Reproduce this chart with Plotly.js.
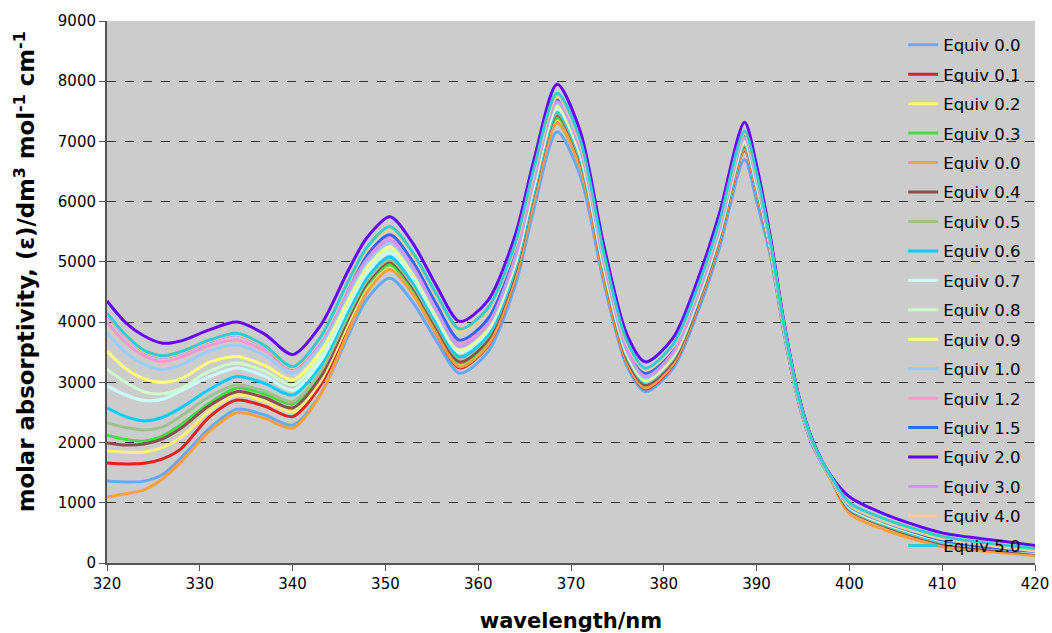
<!DOCTYPE html>
<html><head><meta charset="utf-8">
<script src="https://cdn.plot.ly/plotly-3.0.1.min.js"></script>
<style>html,body{margin:0;padding:0;background:#fff}#chart{width:1052px;height:633px}</style>
</head><body><div id="chart"></div>
<script>
const wavelength = [320,322,324,326,328,331,334,337,340,343,346,348,350.5,353,355.5,358,361,364,366,368.5,371,373.5,376,378,381,384,386,388.7,390,391.5,393,394.5,396,398,400,404,410,415,420];

const labels = ["Equiv 0.0","Equiv 0.1","Equiv 0.2","Equiv 0.3","Equiv 0.0","Equiv 0.4","Equiv 0.5","Equiv 0.6","Equiv 0.7","Equiv 0.8","Equiv 0.9","Equiv 1.0","Equiv 1.2","Equiv 1.5","Equiv 2.0","Equiv 3.0","Equiv 4.0","Equiv 5.0"];
const colors = ["#66AAFF","#DD2222","#FFF07A","#44DD44","#FFA040","#8C5050","#A0C090","#00CCFF","#CCFFFF","#CCFFCC","#FFFF80","#99CCFF","#FF99CC","#3366FF","#6600FF","#CC99FF","#FFCC99","#33CCCC"];

const eq00a = [1360,1345,1360,1470,1750,2230,2555,2457,2290,2802,3778,4380,4730,4319,3687,3150,3495,4614,5877,7160,6426,4679,3276,2845,3231,4310,5235,6700,6000,5090,3764,2676,1957,1388,860,570,300,210,150];
const eq01 = [1660,1645,1655,1730,1900,2420,2705,2603,2430,2949,3937,4540,4900,4468,3804,3240,3592,4733,6021,7330,6575,4777,3334,2890,3286,4395,5345,6850,6150,5165,3809,2706,1980,1403,880,590,300,210,150];
const eq02 = [1860,1840,1845,1920,2090,2520,2790,2686,2510,3016,3980,4570,4920,4496,3844,3290,3640,4776,6058,7360,6605,4807,3364,2920,3316,4425,5375,6880,6180,5180,3818,2712,1984,1406,870,590,310,220,150];
const eq03 = [2125,2050,2025,2110,2300,2650,2905,2807,2640,3125,4049,4610,4950,4526,3874,3320,3670,4806,6088,7390,6632,4825,3376,2930,3327,4439,5391,6900,6200,5190,3824,2716,1987,1408,890,610,330,240,170];
const eq00b = [1095,1150,1215,1400,1680,2180,2495,2401,2240,2792,3844,4490,4870,4451,3807,3260,3607,4735,6007,7300,6553,4773,3344,2905,3302,4412,5364,6870,6170,5175,3815,2710,1982,1380,820,540,270,190,120];
const eq04 = [1995,1960,1975,2060,2240,2610,2845,2745,2575,3084,4054,4645,5000,4568,3904,3340,3693,4837,6128,7440,6678,4861,3403,2955,3352,4462,5413,6920,6220,5200,3830,2720,1990,1410,880,600,320,230,160];
const eq05 = [2330,2250,2210,2260,2440,2760,2955,2853,2680,3174,4114,4685,5030,4606,3954,3400,3750,4886,6168,7470,6709,4897,3442,2995,3390,4494,5441,6940,6240,5210,3836,2724,1993,1412,900,620,340,250,170];
const eq06 = [2575,2430,2360,2420,2580,2880,3095,2982,2790,3271,4187,4740,5080,4650,3988,3425,3775,4911,6193,7495,6733,4916,3458,3010,3405,4511,5459,6960,6260,5220,3842,2728,1996,1414,910,630,360,270,230];
const eq07 = [2940,2790,2700,2720,2860,3090,3240,3103,2870,3349,4261,4810,5150,4718,4054,3490,3838,4968,6244,7540,6772,4941,3472,3020,3416,4526,5477,6980,6280,5230,3848,2732,1999,1416,920,640,370,270,180];
const eq08 = [3220,3000,2840,2810,2900,3180,3320,3185,2955,3426,4324,4865,5200,4763,4091,3520,3868,4998,6274,7570,6800,4965,3493,3040,3436,4545,5495,7000,6300,5240,3854,2736,2002,1418,960,680,420,400,220];
const eq09 = [3520,3230,3060,3000,3060,3330,3430,3280,3040,3504,4388,4920,5250,4808,4128,3550,3898,5028,6304,7600,6825,4978,3496,3040,3438,4553,5508,7020,6320,5250,3860,2740,2005,1420,930,650,380,280,190];
const eq10 = [3820,3500,3300,3215,3290,3520,3620,3446,3150,3604,4468,4985,5310,4862,4171,3585,3934,5065,6342,7640,6863,5012,3527,3070,3467,4579,5531,7040,6340,5260,3866,2744,2008,1422,940,660,390,280,200];
const eq12 = [4000,3660,3440,3345,3420,3610,3700,3522,3220,3678,4550,5075,5400,4942,4238,3640,3988,5118,6394,7690,6913,5062,3577,3120,3516,4625,5575,7080,6380,5280,3878,2752,2014,1426,970,690,410,300,210];
const eq15 = [4130,3770,3510,3420,3490,3680,3795,3590,3240,3696,4584,5120,5450,4995,4295,3700,4043,5156,6413,7690,6918,5079,3604,3150,3545,4651,5599,7100,6400,5290,3884,2756,2017,1428,950,670,380,260,190];
const eq20 = [4350,3993,3769,3650,3689,3870,4000,3800,3460,3941,4857,5400,5750,5298,4602,4010,4349,5448,6689,7950,7166,5299,3801,3340,3738,4852,5808,7320,6600,5400,3950,2800,2050,1450,1100,800,500,390,290];
const eq30 = [4125,3765,3505,3415,3485,3675,3790,3585,3235,3677,4529,5040,5360,4902,4198,3600,3949,5082,6361,7660,6884,5035,3551,3095,3492,4602,5553,7060,6360,5270,3872,2748,2011,1424,980,700,430,320,230];
const eq40 = [4135,3775,3515,3425,3495,3685,3800,3595,3245,3721,4637,5190,5530,5091,4415,3840,4175,5264,6492,7740,6968,5129,3654,3200,3593,4693,5637,7130,6430,5305,3893,2762,2022,1431,960,680,400,290,200];
const eq50 = [4150,3790,3530,3440,3510,3700,3815,3610,3260,3748,4678,5240,5585,5143,4463,3885,4222,5314,6547,7800,7024,5175,3691,3235,3629,4730,5675,7170,6470,5325,3905,2770,2028,1435,1000,720,440,330,240];

const series = [eq00a,eq01,eq02,eq03,eq00b,eq04,eq05,eq06,eq07,eq08,eq09,eq10,eq12,eq15,eq20,eq30,eq40,eq50];

const FONT = "DejaVu Sans, Verdana, sans-serif";
const traces = series.map((ys, i) => ({
  type: 'scatter', mode: 'lines', x: wavelength, y: ys, name: labels[i],
  legendgroup: 'g' + i,
  line: {color: colors[i], width: 3, shape: 'spline', smoothing: 0.8}
}));

const layout = {
  width: 1052, height: 633,
  margin: {l: 107, r: 17, t: 21, b: 70},
  paper_bgcolor: '#ffffff', plot_bgcolor: '#CCCCCC',
  font: {family: FONT, size: 15, color: '#000'},
  showlegend: true,
  legend: {x: 0.858, y: 0.988, xanchor: 'left', yanchor: 'top', bgcolor: 'rgba(0,0,0,0)',
           font: {family: FONT, size: 16.5, color: '#000'}, tracegroupgap: 5, traceorder: 'grouped'},
  xaxis: {range: [320, 420], dtick: 10, tick0: 320, showgrid: false, zeroline: false,
          showline: true, linecolor: '#555', linewidth: 2, ticks: 'outside', ticklen: 6, tickcolor: '#555',
          tickfont: {family: FONT, size: 15},
          title: {text: 'wavelength/nm', font: {family: FONT, size: 21, weight: 'bold'}, standoff: 22}},
  yaxis: {range: [0, 9000], dtick: 1000, tick0: 0, showgrid: true, gridcolor: '#333', griddash: 'dash', gridwidth: 1,
          zeroline: false, showline: true, linecolor: '#555', linewidth: 2, ticks: 'outside', ticklen: 6, tickcolor: '#555',
          tickfont: {family: FONT, size: 15}},
  annotations: [{
    text: 'molar absorptivity, (ε)/dm<sup>3</sup> mol<sup>-1</sup> cm<sup>-1</sup>',
    xref: 'paper', yref: 'paper', x: -0.0884, y: 0.538, xanchor: 'center', yanchor: 'middle',
    textangle: -90, showarrow: false,
    font: {family: FONT, size: 22.8, weight: 'bold', color: '#000'}
  }]
};

Plotly.newPlot('chart', traces, layout, {displayModeBar: false, staticPlot: true});
</script>
</body></html>
